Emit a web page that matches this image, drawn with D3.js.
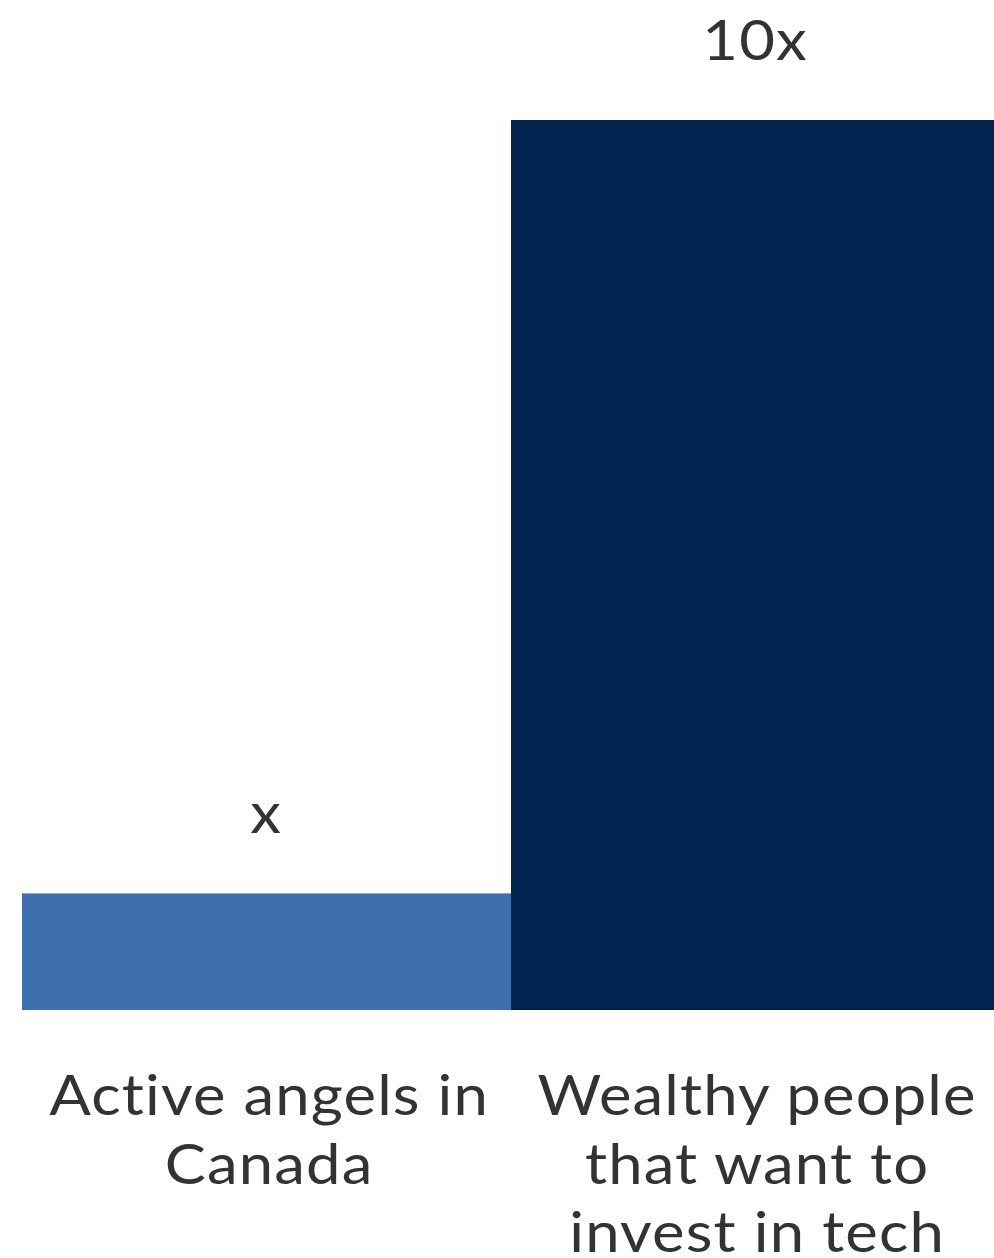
<!DOCTYPE html>
<html>
<head>
<meta charset="utf-8">
<script src="https://cdn.jsdelivr.net/npm/d3@7"></script>
<style>
  html, body { margin: 0; padding: 0; background: #fff; }
  svg { display: block; }
  text { font-family: Lato, "Open Sans", sans-serif; fill: #333; font-variant-ligatures: none; }
</style>
</head>
<body>
<svg id="chart" width="994" height="1258"></svg>
<script>
const categories = ["Active angels in Canada", "Wealthy people that want to invest in tech"];
const categoryLines = [["Active angels in", "Canada"], ["Wealthy people", "that want to", "invest in tech"]];
const values = [1.31, 10];
const valueLabels = ["x", "10x"];
const colors = ["#3e6fae", "#02234f"];

const svg = d3.select("#chart");
const W = 994, H = 1258;
const margin = { left: 22, top: 120, bottom: 248 };

const x = d3.scaleBand().domain(categories).range([margin.left, 1000]).paddingInner(0).paddingOuter(0);
const y = d3.scaleLinear().domain([0, 10]).range([H - margin.bottom, margin.top]);

svg.selectAll("rect.bar").data(categories).join("rect")
  .attr("class", "bar")
  .attr("x", d => x(d))
  .attr("width", x.bandwidth())
  .attr("y", (d, i) => y(values[i]))
  .attr("height", (d, i) => y(0) - y(values[i]))
  .attr("fill", (d, i) => colors[i]);

const fs = 57;
const sx = 1.08; // glyphs of the reference font are a bit wider than Lato
const probe = svg.append("text").style("font-size", fs + "px").text(categoryLines[0][0]);
const w0 = probe.node().getComputedTextLength();
probe.remove();
const ls = Math.max(0, Math.min(5, (440 / sx - w0) / categoryLines[0][0].length));

function place(sel, cx, cy) {
  sel.attr("transform", `translate(${cx},${cy}) scale(${sx},1)`)
     .attr("x", ls / 2).attr("y", 0);
}

svg.selectAll("text.val").data(categories).join("text")
  .attr("class", "val")
  .attr("text-anchor", "middle")
  .style("font-size", fs + "px")
  .style("letter-spacing", ls + "px")
  .text((d, i) => valueLabels[i])
  .each(function(d, i) { place(d3.select(this), x(d) + x.bandwidth() / 2 - 1, y(values[i]) - 60); });

const labelG = svg.selectAll("g.cat").data(categories).join("g").attr("class", "cat");
labelG.each(function(d, i) {
  const g = d3.select(this);
  categoryLines[i].forEach((line, j) => {
    const t = g.append("text")
      .attr("text-anchor", "middle")
      .style("font-size", fs + "px")
      .style("letter-spacing", ls + "px")
      .text(line);
    place(t, x(d) + x.bandwidth() / 2 + (i === 0 ? 2 : 1), y(0) + 105 + j * 68.5);
  });
});
</script>
</body>
</html>
